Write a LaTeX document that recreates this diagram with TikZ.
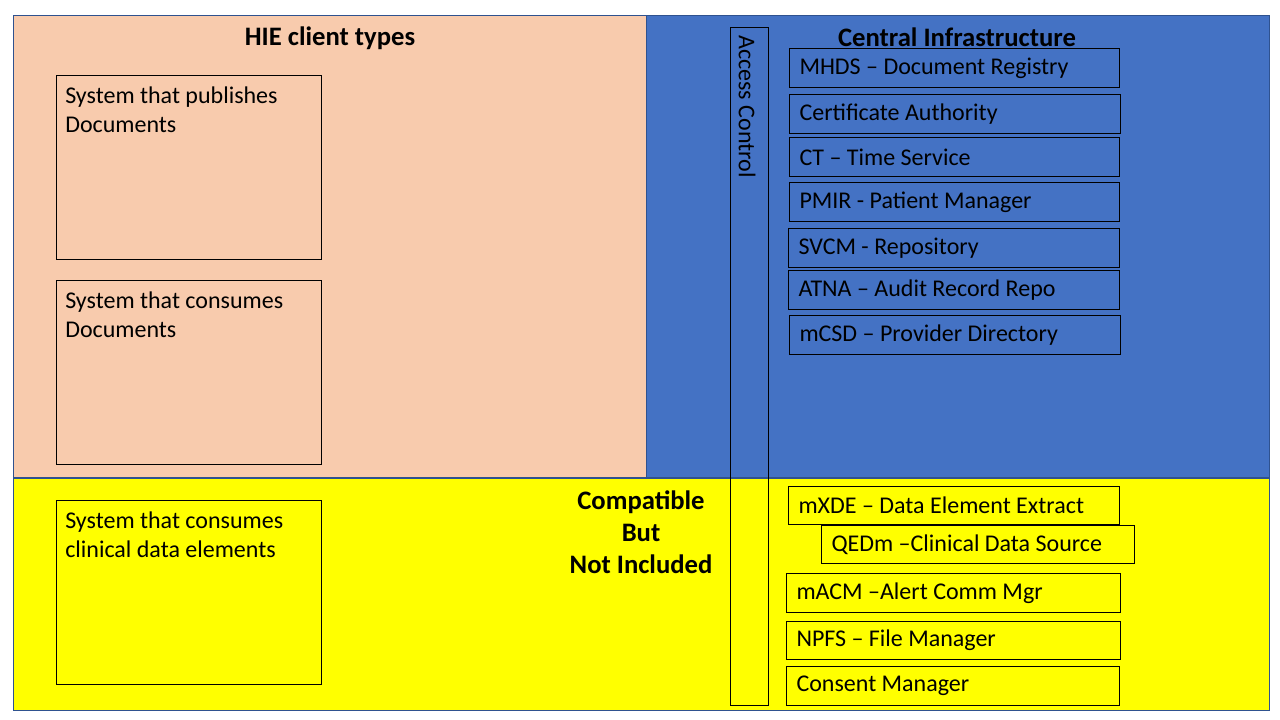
\documentclass[tikz,border=0pt]{standalone}
\usepackage{fontspec}
\setmainfont{Carlito}
\definecolor{salmon}{HTML}{F8CBAD}
\definecolor{ciblue}{HTML}{4472C4}
\definecolor{edgeblue}{HTML}{2F528F}
\definecolor{cyellow}{HTML}{FFFF00}
\tikzset{
  panel/.style={draw=edgeblue, line width=0.75pt},
  clientbox/.style={draw=black, line width=0.75pt, anchor=north west, minimum width=198.75pt, minimum height=138pt, inner sep=0pt},
  clienttext/.style={anchor=north west, align=flush left, inner sep=0pt, font=\fontsize{18}{21.75}\selectfont},
  svcbox/.style={draw=black, line width=0.75pt, anchor=north west, minimum height=29.25pt, align=flush left, inner xsep=7.5pt, inner ysep=0pt, font=\fontsize{18}{21}\selectfont},
  title/.style={font=\fontsize{20}{24}\selectfont\bfseries},
}
\begin{document}
\begin{tikzpicture}[x=0.75pt,y=-0.75pt]
\useasboundingbox (0,0) rectangle (1280,720);
\fill[white] (0,0) rectangle (1280,720);
% panels
\draw[panel, fill=salmon] (13,16) rectangle (646,477);
\draw[panel, fill=ciblue] (646,16) rectangle (1269,477);
\draw[panel, fill=cyellow] (13,478) rectangle (1269,710);
% titles
\node[title] (hie) at (330,38) {HIE client types};
\node[title] (ci) at (957,37) {Central Infrastructure};
\node[title, align=center] (compat) at (641,532) {Compatible\\But\\Not Included};
% access control
\node[draw=black, line width=0.75pt, anchor=north west, minimum width=28.5pt, minimum height=508.5pt, inner sep=0pt] (ac) at (730,27) {};
\node[font=\fontsize{18}{21}\selectfont, rotate=-90, anchor=west, inner sep=0pt] (actext) at (747,35) {Access Control};
% client boxes
\node[clientbox] (pub) at (56,75) {};
\node[clienttext] (pubt) at (65,87) {System that publishes\\Documents};
\node[clientbox] (con) at (56,280) {};
\node[clienttext] (cont) at (65,292) {System that consumes\\Documents};
\node[clientbox] (cde) at (56,500) {};
\node[clienttext] (cdet) at (65,512) {System that consumes\\clinical data elements};
% central services
\node[svcbox, minimum width=247.5pt, text width=232.5pt] (mhds) at (789,48) {MHDS -- Document Registry};
\node[svcbox, minimum width=248.25pt, text width=233.25pt] (cert) at (789,94) {Certificate Authority};
\node[svcbox, minimum width=247.5pt, text width=232.5pt] (ct) at (789,137) {CT -- Time Service};
\node[svcbox, minimum width=247.5pt, text width=232.5pt] (pmir) at (789,182) {PMIR - Patient Manager};
\node[svcbox, minimum width=248.25pt, text width=233.25pt] (svcm) at (788,228) {SVCM - Repository};
\node[svcbox, minimum width=248.25pt, text width=233.25pt] (atna) at (788,270) {ATNA -- Audit Record Repo};
\node[svcbox, minimum width=248.25pt, text width=233.25pt] (mcsd) at (789,315) {mCSD -- Provider Directory};
% compatible services
\node[svcbox, minimum width=248.25pt, minimum height=28.5pt, text width=233.25pt] (mxde) at (788,486) {mXDE -- Data Element Extract};
\node[svcbox, minimum width=234.75pt, minimum height=28.5pt, text width=219.75pt] (qedm) at (821,525) {QEDm --Clinical Data Source};
\node[svcbox, minimum width=250.5pt, text width=235.5pt] (macm) at (786,573) {mACM --Alert Comm Mgr};
\node[svcbox, minimum width=250.5pt, minimum height=28.5pt, text width=235.5pt] (npfs) at (786,621) {NPFS -- File Manager};
\node[svcbox, minimum width=249.75pt, text width=234.75pt] (consent) at (786,666) {Consent Manager};
\end{tikzpicture}
\end{document}
